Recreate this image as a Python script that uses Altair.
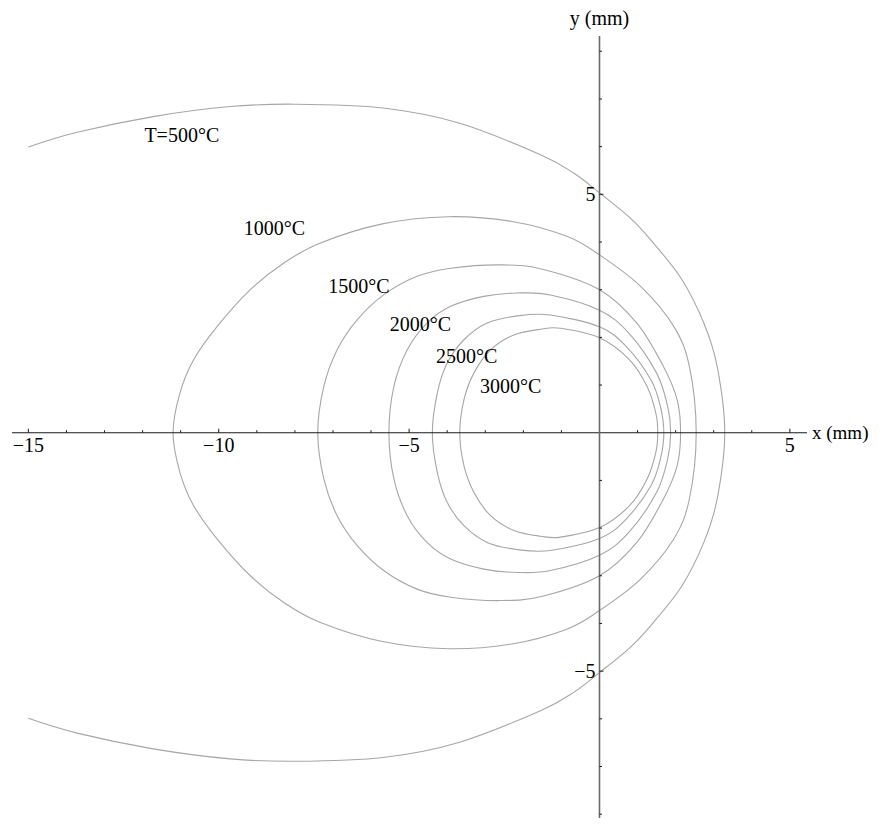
import altair as alt
import pandas as pd

# ---------------- data ----------------
# 500 °C isotherm (open, clipped at x = -15)
t500_x = [-15.0, -13.72, -11.72, -9.70, -7.99, -5.68, -3.67, -1.55, -0.67, 0.0, 0.81, 1.34, 2.15, 2.74, 3.09, 3.29,
          3.09, 2.74, 2.15, 1.34, 0.81, 0.0, -0.67, -1.55, -3.67, -5.68, -7.99, -9.70, -11.72, -13.72, -15.0]
t500_y = [5.99, 6.30, 6.63, 6.84, 6.89, 6.81, 6.49, 5.83, 5.44, 5.03, 4.50, 4.05, 3.23, 2.30, 1.39, 0.0,
          -1.39, -2.30, -3.23, -4.05, -4.50, -5.03, -5.44, -5.83, -6.49, -6.81, -6.89, -6.84, -6.63, -6.30, -5.99]

# closed isotherms (listed once round the loop)
t1000_x = [-11.20, -11.02, -10.66, -10.04, -9.17, -8.29, -7.33, -5.70, -3.97, -2.30, -0.86, 0.0, 1.08, 1.95, 2.36, 2.54,
           2.36, 1.95, 1.08, 0.0, -0.86, -2.30, -3.97, -5.70, -7.33, -8.29, -9.17, -10.04, -10.66, -11.02]
t1000_y = [0.0, 0.83, 1.53, 2.23, 3.00, 3.56, 3.98, 4.38, 4.53, 4.43, 4.12, 3.73, 3.07, 2.23, 1.39, 0.0,
           -1.39, -2.23, -3.07, -3.73, -4.12, -4.43, -4.53, -4.38, -3.98, -3.56, -3.00, -2.23, -1.53, -0.83]

t1500_x = [-7.40, -7.24, -6.89, -6.36, -5.67, -4.79, -3.91, -2.60, -1.50, 0.0, 0.98, 1.68, 2.04, 2.13,
           2.04, 1.68, 0.98, 0.0, -1.50, -2.60, -3.91, -4.79, -5.67, -6.36, -6.89, -7.24]
t1500_y = [0.0, 0.97, 1.74, 2.37, 2.89, 3.28, 3.45, 3.52, 3.43, 3.00, 2.30, 1.39, 0.69, 0.0,
           -0.69, -1.39, -2.30, -3.00, -3.43, -3.52, -3.45, -3.28, -2.89, -2.37, -1.74, -0.97]

t2000_x = [-5.53, -5.40, -5.05, -4.53, -3.91, -3.04, -2.16, -1.29, 0.0, 0.77, 1.50, 1.79, 1.87,
           1.79, 1.50, 0.77, 0.0, -1.29, -2.16, -3.04, -3.91, -4.53, -5.05, -5.40]
t2000_y = [0.0, 0.97, 1.74, 2.30, 2.65, 2.86, 2.93, 2.89, 2.57, 2.09, 1.25, 0.55, 0.0,
           -0.55, -1.25, -2.09, -2.57, -2.89, -2.93, -2.86, -2.65, -2.30, -1.74, -0.97]

t2500_x = [-4.39, -4.26, -4.00, -3.56, -2.95, -2.16, -1.29, 0.0, 0.70, 1.35, 1.60, 1.69,
           1.60, 1.35, 0.70, 0.0, -1.29, -2.16, -2.95, -3.56, -4.00, -4.26]
t2500_y = [0.0, 0.83, 1.46, 1.95, 2.30, 2.45, 2.47, 2.22, 1.81, 1.11, 0.55, 0.0,
           -0.55, -1.11, -1.81, -2.22, -2.47, -2.45, -2.30, -1.95, -1.46, -0.83]

t3000_x = [-3.67, -3.56, -3.30, -2.86, -2.25, -1.55, -1.02, 0.0, 0.79, 1.25, 1.48, 1.53,
           1.48, 1.25, 0.79, 0.0, -1.02, -1.55, -2.25, -2.86, -3.30, -3.56]
t3000_y = [0.0, 0.69, 1.25, 1.74, 2.05, 2.17, 2.19, 1.99, 1.53, 0.97, 0.41, 0.0,
           -0.41, -0.97, -1.53, -1.99, -2.19, -2.17, -2.05, -1.74, -1.25, -0.69]

# contour labels
label_text = ["T=500°C", "1000°C", "1500°C", "2000°C", "2500°C", "3000°C"]
label_x = [-10.97, -8.54, -6.32, -4.70, -3.49, -2.33]
label_y = [6.23, 4.28, 3.05, 2.25, 1.58, 0.95]

# axes
x_range = [-15.43, 5.45]
y_range = [-8.08, 8.32]
x_major = [-15, -10, -5, 5]
x_major_labels = ["−15", "−10", "−5", "5"]
x_minor = [-14, -13, -12, -11, -9, -8, -7, -6, -4, -3, -2, -1, 1, 2, 3, 4]
y_major = [5, -5]
y_major_labels = ["5", "−5"]
y_minor = [8, 7, 6, 4, 3, 2, 1, -1, -2, -3, -4, -6, -7, -8]

# ---------------- tables ----------------
def loop(name, xs, ys):
    return pd.DataFrame({"curve": name, "x": xs, "y": ys, "i": range(len(xs))})

open_df = loop("500", t500_x, t500_y)
closed_df = pd.concat([
    loop("1000", t1000_x, t1000_y),
    loop("1500", t1500_x, t1500_y),
    loop("2000", t2000_x, t2000_y),
    loop("2500", t2500_x, t2500_y),
    loop("3000", t3000_x, t3000_y),
], ignore_index=True)
labels_df = pd.DataFrame({"t": label_text, "x": label_x, "y": label_y})
xmaj_df = pd.DataFrame({"v": x_major, "t": x_major_labels})
xmin_df = pd.DataFrame({"v": x_minor})
ymaj_df = pd.DataFrame({"v": y_major, "t": y_major_labels})
ymin_df = pd.DataFrame({"v": y_minor})

xs = alt.Scale(domain=x_range, nice=False, zero=False)
ys = alt.Scale(domain=y_range, nice=False, zero=False)
FONT = "Liberation Serif"
CURVE = "#a6a6a6"

X = lambda f: alt.X(f, type="quantitative", scale=xs, axis=None)
Y = lambda f: alt.Y(f, type="quantitative", scale=ys, axis=None)

open_curve = alt.Chart(open_df).mark_line(color=CURVE, strokeWidth=1.1, interpolate="cardinal").encode(
    x=X("x"), y=Y("y"), order="i:Q")
closed_curves = alt.Chart(closed_df).mark_line(color=CURVE, strokeWidth=1.1, interpolate="cardinal-closed").encode(
    x=X("x"), y=Y("y"), detail="curve:N", order="i:Q")

labels = alt.Chart(labels_df).mark_text(font=FONT, fontSize=20, color="black", align="center",
                                        baseline="middle").encode(x=X("x"), y=Y("y"), text="t:N")

axis_df = pd.DataFrame({"a": [0]})
x_axis = alt.Chart(axis_df).mark_rule(color="#1a1a1a", strokeWidth=1.1).encode(
    x=alt.X(datum=x_range[0], scale=xs, axis=None), x2=alt.X2(datum=x_range[1]),
    y=alt.Y(datum=0, scale=ys, axis=None))
y_axis = alt.Chart(axis_df).mark_rule(color="#6a6a6a", strokeWidth=1.6).encode(
    y=alt.Y(datum=y_range[0], scale=ys, axis=None), y2=alt.Y2(datum=y_range[1]),
    x=alt.X(datum=0, scale=xs, axis=None))

x_maj_ticks = alt.Chart(xmaj_df).mark_rule(color="#1a1a1a", strokeWidth=1, y2Offset=-4).encode(
    x=X("v"), y=alt.Y(datum=0, scale=ys, axis=None), y2=alt.Y2(datum=0))
x_min_ticks = alt.Chart(xmin_df).mark_rule(color="#1a1a1a", strokeWidth=1, y2Offset=-2.5).encode(
    x=X("v"), y=alt.Y(datum=0, scale=ys, axis=None), y2=alt.Y2(datum=0))
y_maj_ticks = alt.Chart(ymaj_df).mark_rule(color="#1a1a1a", strokeWidth=1, x2Offset=4).encode(
    y=Y("v"), x=alt.X(datum=0, scale=xs, axis=None), x2=alt.X2(datum=0))
y_min_ticks = alt.Chart(ymin_df).mark_rule(color="#1a1a1a", strokeWidth=1, x2Offset=2.5).encode(
    y=Y("v"), x=alt.X(datum=0, scale=xs, axis=None), x2=alt.X2(datum=0))

x_tick_labels = alt.Chart(xmaj_df).mark_text(font=FONT, fontSize=20, color="black", align="center",
                                             baseline="middle", dy=13).encode(
    x=X("v"), y=alt.Y(datum=0, scale=ys, axis=None), text="t:N")
y_tick_labels = alt.Chart(ymaj_df).mark_text(font=FONT, fontSize=20, color="black", align="right",
                                             baseline="middle", dx=-4, dy=1).encode(
    y=Y("v"), x=alt.X(datum=0, scale=xs, axis=None), text="t:N")

x_title = alt.Chart(axis_df).mark_text(font=FONT, fontSize=19, color="black", align="left",
                                       baseline="middle", dx=5, text="x  (mm)").encode(
    x=alt.X(datum=x_range[1], scale=xs, axis=None), y=alt.Y(datum=0, scale=ys, axis=None))
y_title = alt.Chart(axis_df).mark_text(font=FONT, fontSize=20, color="black", align="center",
                                       baseline="alphabetic", dy=-11, text="y  (mm)").encode(
    x=alt.X(datum=0, scale=xs, axis=None), y=alt.Y(datum=y_range[1], scale=ys, axis=None))

chart = alt.layer(
    open_curve, closed_curves, x_axis, y_axis,
    x_maj_ticks, x_min_ticks, y_maj_ticks, y_min_ticks,
    x_tick_labels, y_tick_labels, x_title, y_title, labels,
).properties(
    width=795, height=782,
    autosize=alt.AutoSizeParams(type="none"),
    padding={"left": 4, "top": 28, "right": 64, "bottom": 0},
    background="white",
).configure_view(stroke=None)

chart.save("out.html", embed_options={"renderer": "svg", "actions": False})
